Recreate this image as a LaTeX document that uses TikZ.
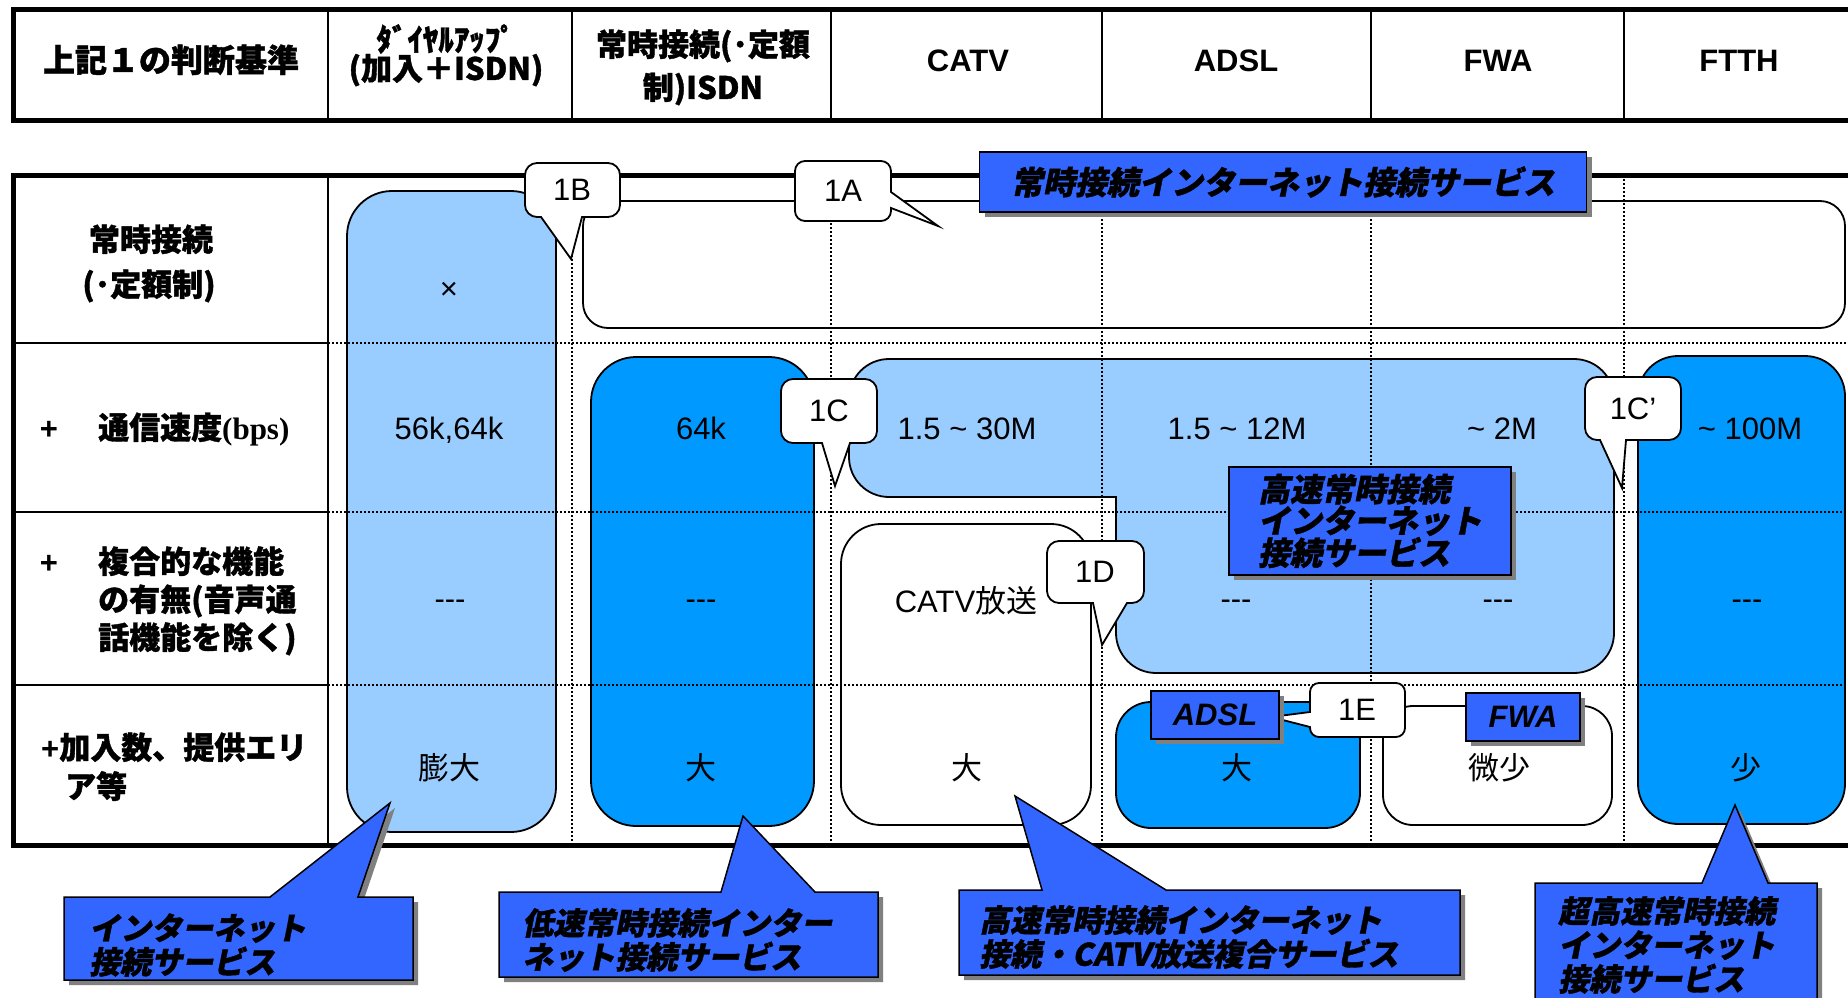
\documentclass[tikz,border=0pt]{standalone}
\usepackage{fontspec}
\setmainfont{Liberation Sans}
\newfontfamily\jp{Noto Sans CJK JP}[BoldFeatures={FakeBold=1.2}]
\newfontfamily\jpsl{Noto Sans CJK JP}[FakeSlant=0.2,BoldFeatures={FakeBold=1.2}]
\newfontfamily\tms{Liberation Serif}
\usetikzlibrary{shadows}
\definecolor{lightblue}{HTML}{99CCFF}
\definecolor{deepblue}{HTML}{0099FF}
\definecolor{labelblue}{HTML}{3366FF}
\definecolor{shadowgray}{HTML}{808080}
\begin{document}
\begin{tikzpicture}[x=1pt,y=-1pt,
  thickline/.style={line width=5pt},
  thinline/.style={line width=1.6pt},
  gridline/.style={line width=1.6pt, dash pattern=on 2pt off 2pt},
  cellbox/.style={draw=black, line width=1.8pt},
  wcallout/.style={draw=black, fill=white, line width=1.8pt},
  myshadow/.style={drop shadow={shadow xshift=5pt, shadow yshift=-5pt, opacity=1, fill=shadowgray}},
  bcallout/.style={draw=black, fill=labelblue, line width=1.5pt, myshadow},
  bluelabel/.style={draw=black, fill=labelblue, line width=1.5pt, inner sep=0pt, myshadow,
     font=\jpsl\fontsize{32}{30}\selectfont\bfseries},
  hdtxt/.style={anchor=base, inner sep=0pt, font=\fontsize{31}{34}\selectfont\bfseries},
  jhdtxt/.style={anchor=base, inner sep=0pt, font=\jp\fontsize{31}{34}\selectfont\bfseries},
  celltxt/.style={anchor=base, inner sep=0pt, font=\fontsize{31}{34}\selectfont},
  ctxt/.style={anchor=center, inner sep=0pt, font=\fontsize{31}{34}\selectfont},
  btxt/.style={anchor=west, inner sep=0pt, align=left, font=\jpsl\fontsize{31}{34}\selectfont\bfseries}
]
\useasboundingbox (0,0) rectangle (1848,998);

% ---------- header table ----------
\foreach \xx in {328,572,831,1102,1371,1624} \draw[thinline] (\xx,10) -- (\xx,120);
\draw[thickline] (1848,10) -- (13,10) -- (13,120) -- (1848,120);

\node[jhdtxt, font=\jp\fontsize{32}{34}\selectfont\bfseries] (h0) at (171,72) {上記１の判断基準};
\node[jhdtxt] (h1a) at (446,51) {ﾀﾞｲﾔﾙｱｯﾌﾟ};
\node[jhdtxt] (h1b) at (446,80) {(加入＋ISDN)};
\node[jhdtxt] (h2a) at (703,56) {常時接続(･定額};
\node[jhdtxt] (h2b) at (703,99) {制)ISDN};
\node[hdtxt] (h3) at (968,72) {CATV};
\node[hdtxt] (h4) at (1236,72) {ADSL};
\node[hdtxt] (h5) at (1498,72) {FWA};
\node[hdtxt] (h6) at (1739,72) {FTTH};

% ---------- filled regions ----------
\draw[cellbox, fill=lightblue, rounded corners=45pt] (347,191) rectangle (556,832);
\draw[cellbox, fill=deepblue, rounded corners=45pt] (591,357) rectangle (814,826);
\draw[cellbox, fill=lightblue] (1000,497) [rounded corners=40pt] -- (849,497) -- (849,359) -- (1614,359) -- (1614,673) -- (1116,673) [sharp corners] -- (1116,497) -- cycle;
\draw[cellbox, fill=deepblue, rounded corners=40pt] (1638,356) rectangle (1845,824);
\draw[cellbox, fill=deepblue, rounded corners=35pt] (1116,702) rectangle (1360,828);
\draw[cellbox, rounded corners=40pt] (841,524) rectangle (1091,825);
\draw[cellbox, rounded corners=30pt] (1383,706) rectangle (1612,825);
\draw[cellbox, rounded corners=25pt] (583,201) rectangle (1845,328);

% ---------- grid ----------
\foreach \yy in {343,512,685} {
  \draw[thinline] (13,\yy) -- (328,\yy);
  \draw[gridline] (328,\yy) -- (1848,\yy);
}
\foreach \xx in {572,831,1102,1371,1624} \draw[gridline] (\xx,175) -- (\xx,845);
\draw[thinline] (328,175) -- (328,845);
\draw[thickline] (1848,175) -- (13,175) -- (13,845) -- (1848,845);

% ---------- row labels ----------
\node[jhdtxt] (r1a) at (151,251) {常時接続};
\node[jhdtxt] (r1b) at (149,296) {(･定額制)};
\node[hdtxt] (r2p) at (49,439) {+};
\node[jhdtxt, anchor=base west] (r2) at (98,439) {通信速度{\tms(bps)}};
\node[hdtxt] (r3p) at (49,573) {+};
\node[jhdtxt, anchor=base west] (r3a) at (98,573) {複合的な機能};
\node[jhdtxt, anchor=base west] (r3b) at (98,611) {の有無(音声通};
\node[jhdtxt, anchor=base west] (r3c) at (98,649) {話機能を除く)};
\node[jhdtxt, anchor=base west] (r4a) at (41,759) {{\rmfamily +}加入数、提供エリ};
\node[jhdtxt, anchor=base west] (r4b) at (65,798) {ア等};

% ---------- cell values ----------
\node[celltxt] (c1a) at (449,299) {×};
\node[celltxt] (c1b) at (449,439) {56k,64k};
\node[celltxt] (c1c) at (450,609) {-{}-{}-};
\node[celltxt] (c1d) at (449,779) {\jp 膨大};
\node[celltxt] (c2b) at (701,439) {64k};
\node[celltxt] (c2c) at (701,609) {-{}-{}-};
\node[celltxt] (c2d) at (701,779) {\jp 大};
\node[celltxt] (c3b) at (967,439) {1.5 \textasciitilde{} 30M};
\node[celltxt] (c3c) at (966,612) {CATV{\jp 放送}};
\node[celltxt] (c3d) at (967,779) {\jp 大};
\node[celltxt] (c4b) at (1237,439) {1.5 \textasciitilde{} 12M};
\node[celltxt] (c4c) at (1236,609) {-{}-{}-};
\node[celltxt] (c4d) at (1237,779) {\jp 大};
\node[celltxt] (c5b) at (1502,439) {\textasciitilde{} 2M};
\node[celltxt] (c5c) at (1498,609) {-{}-{}-};
\node[celltxt] (c5d) at (1499,779) {\jp 微少};
\node[celltxt] (c6b) at (1750,439) {\textasciitilde{} 100M};
\node[celltxt] (c6c) at (1747,609) {-{}-{}-};
\node[celltxt] (c6d) at (1746,779) {\jp 少};

% ---------- white callouts ----------
\draw[wcallout] (582,217) [rounded corners=12pt] -- (620,217) -- (620,163) -- (525,163) -- (525,217) [sharp corners] -- (541,217) -- (571,259) -- cycle;
\node[ctxt] (k1B) at (572,190) {1B};
\draw[wcallout] (891,208) [rounded corners=10pt] -- (891,221) -- (795,221) -- (795,161) -- (891,161) [sharp corners] -- (891,192) -- (938,226) -- cycle;
\node[ctxt] (k1A) at (843,191) {1A};
\draw[wcallout] (850,443) [rounded corners=12pt] -- (877,443) -- (877,379) -- (781,379) -- (781,443) [sharp corners] -- (822,443) -- (835,486) -- cycle;
\node[ctxt] (k1C) at (829,411) {1C};
\draw[wcallout] (1626,440) [rounded corners=12pt] -- (1681,440) -- (1681,377) -- (1585,377) -- (1585,440) [sharp corners] -- (1600,440) -- (1622,488) -- cycle;
\node[ctxt] (k1Cp) at (1633,409) {1C’};
\draw[wcallout] (1127,603) [rounded corners=12pt] -- (1144,603) -- (1144,541) -- (1047,541) -- (1047,603) [sharp corners] -- (1093,603) -- (1102,645) -- cycle;
\node[ctxt] (k1D) at (1095,572) {1D};
\draw[wcallout] (1310,712) [rounded corners=9pt] -- (1310,683) -- (1405,683) -- (1405,737) -- (1310,737) [sharp corners] -- (1310,727) -- (1271,717) -- cycle;
\node[ctxt] (k1E) at (1357,710) {1E};

% ---------- blue labels ----------
\node[bluelabel, minimum width=607pt, minimum height=60pt] (lblA) at (1283,182) {常時接続インターネット接続サービス};
\node[bluelabel, minimum width=282pt, minimum height=108pt, align=left] (lblB) at (1370,521) {高速常時接続\\インターネット\\接続サービス};
\node[bluelabel, minimum width=128pt, minimum height=48pt, font=\fontsize{31}{34}\selectfont\bfseries\itshape] (lblC) at (1215,715) {ADSL};
\node[bluelabel, minimum width=114pt, minimum height=48pt, font=\fontsize{31}{34}\selectfont\bfseries\itshape] (lblD) at (1523,717) {FWA};

% ---------- bottom callouts ----------
\draw[bcallout] (64,897) -- (270,897) -- (390,803) -- (358,897) -- (413,897) -- (413,980) -- (64,980) -- cycle;
\node[btxt] (t1) at (89,945) {インターネット\\接続サービス};
\draw[bcallout] (499,892) -- (721,892) -- (743,816) -- (815,892) -- (878,892) -- (878,977) -- (499,977) -- cycle;
\node[btxt] (t2) at (522,940) {低速常時接続インター\\ネット接続サービス};
\draw[bcallout] (959,890) -- (1042,890) -- (1015,796) -- (1166,890) -- (1460,890) -- (1460,975) -- (959,975) -- cycle;
\node[btxt] (t3) at (979,937) {高速常時接続インターネット\\接続・CATV放送複合サービス};
\draw[bcallout] (1535,883) -- (1702,883) -- (1735,805) -- (1768,883) -- (1817,883) -- (1817,1010) -- (1535,1010) -- cycle;
\node[btxt] (t4) at (1558,945) {超高速常時接続\\インターネット\\接続サービス};
\end{tikzpicture}
\end{document}
